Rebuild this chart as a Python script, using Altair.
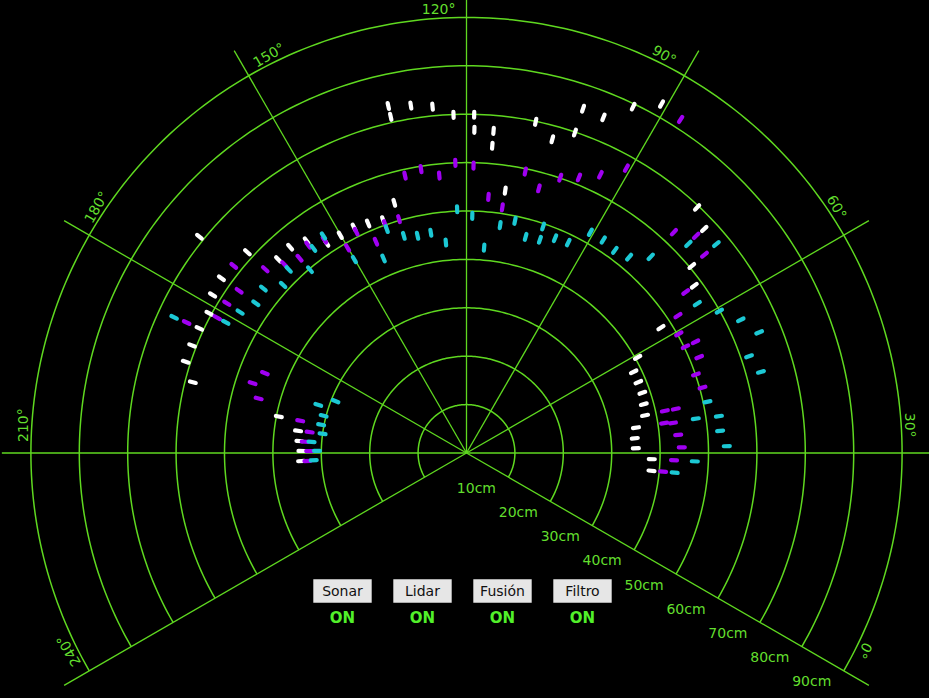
import altair as alt
import pandas as pd
import numpy as np

# ---------------- data (angle in degrees as labelled on the radar, distance in cm) ----------------
sonar_angle = [24.5, 28.1, 31.6, 35.0, 38.5, 41.9, 45.4, 48.9, 52.4, 55.9, 59.2, 62.8, 66.3, 69.7,
               73.3, 76.8, 90.8, 94.3, 97.8, 101.3, 101.3, 104.7, 108.2, 111.6, 115.2, 115.2, 118.7,
               118.6, 122.2, 125.6, 129.1, 132.7, 132.7, 136.1, 139.7, 143.2, 146.5, 150.1, 153.7,
               157.0, 160.6, 164.2, 167.5, 171.0, 174.5, 178.1, 181.5, 185.0, 188.6, 192.0, 195.5,
               199.0, 202.5, 205.9, 209.3, 212.8]
sonar_dist = [38.4, 38.3, 35.0, 34.9, 35.4, 37.7, 38.0, 38.4, 38.4, 38.4, 40.5, 47.8, 58.4, 60.5,
              67.5, 69.6, 82.6, 79.4, 74.9, 75.1, 69.9, 67.2, 69.9, 54.8, 66.8, 63.7, 69.9,
              66.8, 69.9, 71.9, 72.7, 73.5, 71.2, 53.8, 51.1, 51.6, 52.1, 52.0, 52.1,
              54.9, 56.0, 55.8, 61.4, 71.0, 62.2, 61.8, 60.5, 60.9, 60.9, 61.0, 58.4,
              39.5, 35.1, 34.6, 34.1, 34.2]

lidar_angle = [24.6, 28.0, 31.5, 34.9, 38.6, 38.3, 42.0, 41.9, 45.5, 48.9, 52.4, 55.9, 55.9, 59.3,
               63.0, 66.3, 69.8, 73.4, 76.8, 87.3, 90.7, 94.3, 97.8, 101.2, 104.7, 108.2, 111.7,
               115.1, 118.6, 122.2, 125.6, 129.1, 132.5, 136.1, 139.6, 143.2, 146.5, 150.1, 153.7,
               157.3, 160.6, 164.0, 167.6, 171.2, 174.5, 178.0, 181.5, 185.0, 188.4, 191.9, 195.3,
               199.0, 202.4, 206.0, 209.3, 212.9]
lidar_dist = [40.8, 42.9, 44.5, 43.9, 41.3, 43.1, 41.9, 44.2, 50.6, 50.1, 52.0, 50.3, 52.6, 50.3,
              52.1, 56.2, 64.0, 65.3, 62.6, 81.9, 67.5, 63.8, 61.5, 60.1, 56.7, 59.4, 51.3,
              53.1, 59.4, 60.0, 57.6, 59.4, 58.7, 50.3, 50.2, 47.5, 51.1, 49.0, 52.9,
              54.0, 53.0, 54.2, 56.3, 61.7, 57.7, 58.4, 58.6, 63.8, 44.8, 46.5, 44.4,
              35.0, 32.7, 33.5, 32.5, 32.9]

fusion_angle = [24.6, 27.9, 31.5, 35.0, 38.5, 38.3, 42.0, 45.4, 48.9, 52.4, 55.9, 59.3, 62.9, 69.9,
                73.3, 76.8, 80.3, 83.8, 87.3, 90.7, 94.2, 97.6, 101.0, 101.3, 104.7, 108.2, 111.6,
                115.1, 118.6, 122.2, 125.6, 129.2, 132.7, 136.1, 139.6, 143.1, 150.1, 153.4, 156.8,
                160.5, 164.1, 167.5, 171.0, 174.6, 178.1, 181.5, 185.1, 188.4, 192.0, 195.4, 199.0,
                202.4, 205.9, 209.2, 212.7]
fusion_dist = [43.2, 47.2, 53.8, 52.6, 47.9, 52.7, 50.9, 63.1, 61.7, 65.4, 63.0, 59.9, 56.8, 67.3,
               63.0, 55.6, 52.6, 51.9, 52.3, 52.3, 48.3, 48.0, 46.6, 49.4, 46.3, 49.0, 47.6,
               42.6, 49.0, 50.4, 43.7, 46.1, 46.0, 46.7, 49.1, 43.7, 46.2, 53.7, 52.8,
               49.8, 52.8, 51.4, 54.0, 53.4, 55.1, 56.6, 66.6, 29.1, 32.2, 30.5, 30.6,
               30.0, 32.1, 30.9, 31.6]

ring_cm = [10, 20, 30, 40, 50, 60, 70, 80, 90]
spoke_labels = [0, 30, 60, 90, 120, 150, 180, 210, 240]
buttons = ["Sonar", "Lidar", "Fusión", "Filtro"]
button_state = ["ON", "ON", "ON", "ON"]

# ---------------- layout / style ----------------
W, H = 929, 698
CX, CY = 466.5, 453.0          # radar centre in pixels
S = 4.84                       # pixels per cm
OFFSET = 30                    # labelled angle - mathematical angle
GRID = "#5fd820"
LABEL = "#62de2e"
ONCOL = "#52f02a"
FONT = "DejaVu Sans"

xs = alt.Scale(domain=[-CX / S, (W - CX) / S], nice=False, zero=False)
ys = alt.Scale(domain=[-(H - CY) / S, CY / S], nice=False, zero=False)


def X(f):
    return alt.X(f, type="quantitative", scale=xs, axis=None)


def Y(f):
    return alt.Y(f, type="quantitative", scale=ys, axis=None)


def px2x(p):
    return (p - CX) / S


def px2y(p):
    return (CY - p) / S


# rings (arcs from -30 to 210 degrees, mathematical)
arc_deg = np.arange(-30, 211, 1.0)
ring_rows = []
for r in ring_cm:
    for a in arc_deg:
        t = np.radians(a)
        ring_rows.append({"ring": r, "a": a, "x": r * np.cos(t), "y": r * np.sin(t)})
rings_df = pd.DataFrame(ring_rows)

rings = alt.Chart(rings_df).mark_line(color=GRID, strokeWidth=1.5).encode(
    x=X("x"), y=Y("y"), detail="ring:N", order="a:Q"
)

# spokes
SPOKE_LEN = 96.0
sp_df = pd.DataFrame({"lab": spoke_labels})
spokes = alt.Chart(sp_df).transform_calculate(
    t=f"(datum.lab - {OFFSET}) * PI / 180",
    x0="0", y0="0",
    x1=f"{SPOKE_LEN} * cos(datum.t)", y1=f"{SPOKE_LEN} * sin(datum.t)",
).mark_rule(color=GRID, strokeWidth=1.3).encode(
    x=X("x0"), y=Y("y0"), x2="x1:Q", y2="y1:Q"
)

# angle labels
LAB_R = 443.5 / S
ang_labels = alt.Chart(sp_df).transform_calculate(
    m=f"datum.lab - {OFFSET}",
    off="datum.m <= 90 ? 3.6 : -3.6",
    t="(datum.m + datum.off) * PI / 180",
    x=f"{LAB_R} * cos(datum.t)", y=f"{LAB_R} * sin(datum.t)",
    rot="((90 - datum.m) % 360 + 360) % 360",
    txt="datum.lab + '°'",
).mark_text(color=LABEL, font=FONT, fontSize=14, align="center", baseline="middle").encode(
    x=X("x"), y=Y("y"), text="txt:N", angle=alt.Angle("rot:Q", scale=None)
)

# distance labels (near the 0-degree spoke)
dl_df = pd.DataFrame({"r": ring_cm})
dist_labels = alt.Chart(dl_df).transform_calculate(
    x=f"datum.r * cos(-PI / 6) - {32.0 / S}",
    y=f"datum.r * sin(-PI / 6) - {11.5 / S}",
    txt="datum.r + 'cm'",
).mark_text(color=LABEL, font=FONT, fontSize=14, align="center", baseline="middle").encode(
    x=X("x"), y=Y("y"), text="txt:N"
)

# sensor readings (short radial dashes)
pts = pd.concat([
    pd.DataFrame({"sensor": "Sonar", "angle": sonar_angle, "dist": sonar_dist}),
    pd.DataFrame({"sensor": "Lidar", "angle": lidar_angle, "dist": lidar_dist}),
    pd.DataFrame({"sensor": "Fusión", "angle": fusion_angle, "dist": fusion_dist}),
], ignore_index=True)

HALF = 0.62
dashes = alt.Chart(pts).transform_calculate(
    t=f"(datum.angle - {OFFSET}) * PI / 180",
    xa=f"(datum.dist - {HALF}) * cos(datum.t)", ya=f"(datum.dist - {HALF}) * sin(datum.t)",
    xb=f"(datum.dist + {HALF}) * cos(datum.t)", yb=f"(datum.dist + {HALF}) * sin(datum.t)",
).mark_rule(strokeWidth=4.2, strokeCap="round").encode(
    x=X("xa"), y=Y("ya"), x2="xb:Q", y2="yb:Q",
    color=alt.Color("sensor:N", legend=None,
                    scale=alt.Scale(domain=["Sonar", "Lidar", "Fusión"],
                                    range=["#ffffff", "#a000f2", "#1cc8d4"])),
)

# buttons
B0, BSTEP, BHALF = 342.5, 80.0, 29.2
BTOP, BBOT, BTXT, BON = 579.3, 602.7, 591.5, 618.0
btn_df = pd.DataFrame({"name": buttons, "state": button_state, "i": range(len(buttons))})
btn_df["cx"] = px2x(B0 + BSTEP * btn_df["i"])
btn_df["xl"] = px2x(B0 + BSTEP * btn_df["i"] - BHALF)
btn_df["xr"] = px2x(B0 + BSTEP * btn_df["i"] + BHALF)
btn_df["yt"] = px2y(BTOP)
btn_df["yb"] = px2y(BBOT)
btn_df["ytxt"] = px2y(BTXT)
btn_df["yon"] = px2y(BON)

btn_box = alt.Chart(btn_df).mark_rect(color="#e6e6e6").encode(
    x=X("xl"), x2="xr:Q", y=Y("yt"), y2="yb:Q"
)
btn_txt = alt.Chart(btn_df).mark_text(color="#111111", font=FONT, fontSize=14,
                                      align="center", baseline="middle").encode(
    x=X("cx"), y=Y("ytxt"), text="name:N"
)
btn_on = alt.Chart(btn_df).mark_text(color=ONCOL, font=FONT, fontSize=15, fontWeight="bold",
                                     align="center", baseline="middle").encode(
    x=X("cx"), y=Y("yon"), text="state:N"
)

chart = alt.layer(
    rings, spokes, ang_labels, dist_labels, dashes, btn_box, btn_txt, btn_on
).properties(
    width=W, height=H, padding=0, background="#000000",
    autosize=alt.AutoSizeParams(type="none"),
).configure_view(strokeWidth=0)

chart.save("out.html", embed_options={"renderer": "svg", "actions": False})
